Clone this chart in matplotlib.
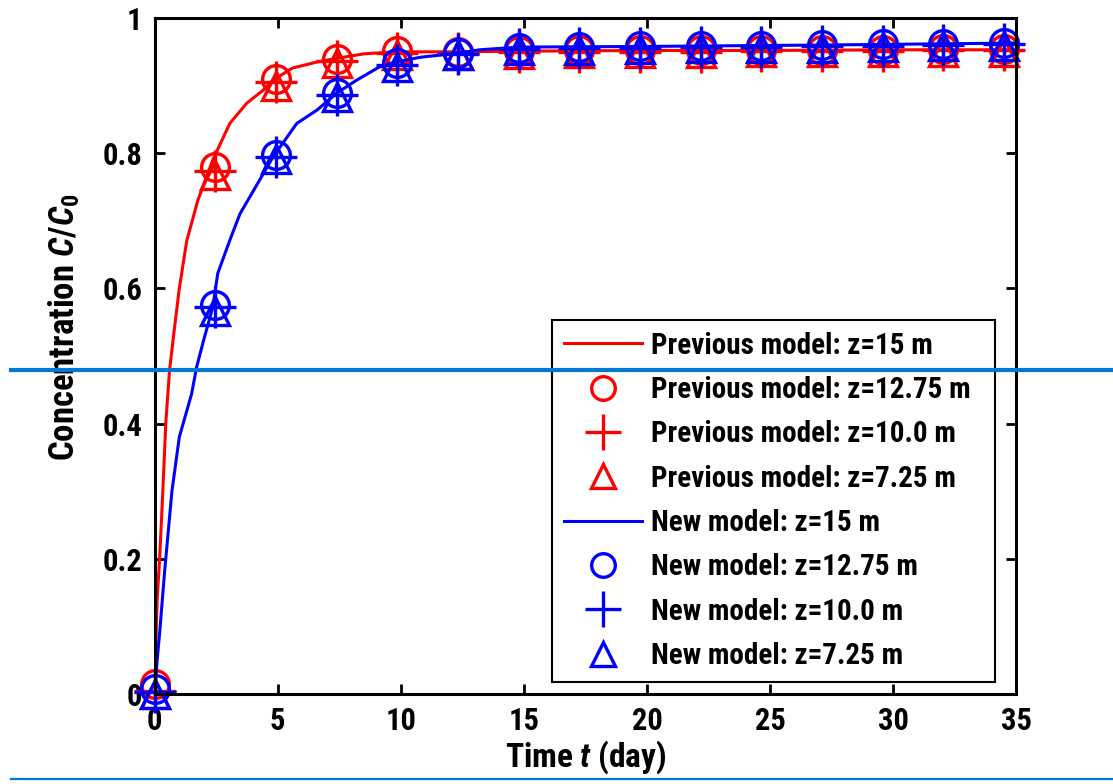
import matplotlib
matplotlib.use("Agg")
import matplotlib.pyplot as plt
from matplotlib.lines import Line2D

plt.rcParams['font.family'] = ['Roboto Condensed', 'Liberation Sans', 'DejaVu Sans']
plt.rcParams['font.weight'] = 'bold'
plt.rcParams['mathtext.fontset'] = 'custom'
plt.rcParams['mathtext.it'] = 'Roboto Condensed:italic:bold'
plt.rcParams['mathtext.rm'] = 'Roboto Condensed:bold'

# continuous model curves
t_prev = [0, 0.05, 0.1, 0.2, 0.33, 0.45, 0.6, 0.8, 1.0, 1.3, 1.75, 2.36, 3.05, 3.74, 4.4, 4.8,
          5.6, 6.6, 7.5, 8.5, 9.8, 12, 15, 20, 25, 30, 35]
c_prev = [0, 0.08, 0.14, 0.2, 0.3, 0.4, 0.478, 0.54, 0.6, 0.67, 0.73, 0.79, 0.844, 0.874, 0.893, 0.908,
          0.926, 0.935, 0.941, 0.947, 0.95, 0.95, 0.951, 0.952, 0.952, 0.953, 0.953]
t_new = [0, 0.1, 0.2, 0.4, 0.7, 1.0, 1.5, 1.7, 2.0, 2.36, 2.56, 3.05, 3.46, 3.78, 4.8, 5.77, 6.6,
         7.4, 8.2, 9.1, 9.8, 10.8, 12.3, 13.2, 14.8, 20, 27, 35]
c_new = [0, 0.05, 0.09, 0.18, 0.3, 0.38, 0.444, 0.483, 0.525, 0.572, 0.622, 0.671, 0.71, 0.73, 0.794, 0.844, 0.864,
         0.889, 0.908, 0.927, 0.935, 0.942, 0.948, 0.953, 0.957, 0.958, 0.96, 0.963]

# marker series
t_mark = [0, 2.46, 4.93, 7.39, 9.86, 12.32, 14.79, 17.25, 19.71, 22.18, 24.64, 27.11, 29.57, 32.04, 34.5]
prev_1275 = [0.015, 0.78, 0.91, 0.94, 0.951, 0.95, 0.951, 0.952, 0.952, 0.952, 0.953, 0.953, 0.953, 0.954, 0.954]
prev_100 = [0.004, 0.773, 0.905, 0.937, 0.948, 0.948, 0.949, 0.95, 0.95, 0.95, 0.951, 0.951, 0.951, 0.952, 0.952]
prev_725 = [0.0, 0.768, 0.9, 0.934, 0.945, 0.946, 0.947, 0.948, 0.948, 0.948, 0.949, 0.949, 0.949, 0.95, 0.95]
new_1275 = [0.007, 0.575, 0.797, 0.889, 0.934, 0.948, 0.955, 0.957, 0.958, 0.959, 0.959, 0.96, 0.961, 0.962, 0.963]
new_100 = [0.003, 0.572, 0.795, 0.886, 0.931, 0.947, 0.954, 0.955, 0.956, 0.957, 0.957, 0.958, 0.959, 0.96, 0.961]
new_725 = [0.0, 0.567, 0.792, 0.883, 0.928, 0.945, 0.952, 0.953, 0.954, 0.955, 0.955, 0.956, 0.957, 0.958, 0.959]

labels = ["Previous model: z=15 m", "Previous model: z=12.75 m", "Previous model: z=10.0 m",
          "Previous model: z=7.25 m", "New model: z=15 m", "New model: z=12.75 m",
          "New model: z=10.0 m", "New model: z=7.25 m"]

fig = plt.figure(figsize=(11.13, 7.84), dpi=100)
ax = fig.add_axes([0.139, 0.115, 0.774, 0.862])

lw = 2.2
mk = dict(linestyle='none', markerfacecolor='none', markeredgewidth=2.4, clip_on=False)
ax.plot(t_prev, c_prev, color='red', lw=lw, label=labels[0])
ax.plot(t_mark, prev_1275, marker='o', markersize=20, color='red', label=labels[1], **mk)
ax.plot(t_mark, prev_100, marker='+', markersize=30, color='red', label=labels[2], **mk)
ax.plot(t_mark, prev_725, marker='^', markersize=20, color='red', label=labels[3], **mk)
ax.plot(t_new, c_new, color='blue', lw=lw, label=labels[4])
ax.plot(t_mark, new_1275, marker='o', markersize=20, color='blue', label=labels[5], **mk)
ax.plot(t_mark, new_100, marker='+', markersize=30, color='blue', label=labels[6], **mk)
ax.plot(t_mark, new_725, marker='^', markersize=20, color='blue', label=labels[7], **mk)

ax.set_xlim(0, 35)
ax.set_ylim(0, 1)
ax.set_xticks([0, 5, 10, 15, 20, 25, 30, 35])
ax.set_yticks([0, 0.2, 0.4, 0.6, 0.8, 1])
ax.set_yticklabels(['0', '0.2', '0.4', '0.6', '0.8', '1'])
ax.tick_params(direction='in', length=7, width=2, top=True, right=True, labelsize=22, pad=9)
for s in ax.spines.values():
    s.set_linewidth(2.2)
ax.set_xlabel(r'Time $t$ (day)', fontsize=24, fontweight='bold', labelpad=1)
ax.set_ylabel(r'Concentration $C/C_0$', fontsize=25, fontweight='bold')
ax.yaxis.set_label_coords(-0.084, 0.542)

leg = ax.legend(loc='lower left', bbox_to_anchor=(0.461, 0.018, 0.514, 0.5), mode='expand',
                fontsize=21, fancybox=False, edgecolor='black', framealpha=1, handlelength=2.7,
                labelspacing=0.56, borderpad=0.4, handletextpad=0.3, markerscale=0.85,
                borderaxespad=0)
leg.get_frame().set_linewidth(1.5)

# the two blue guide lines across the picture
fig.add_artist(Line2D([0.01, 1], [0.528, 0.528], transform=fig.transFigure, color='#0078d4', lw=3))
fig.add_artist(Line2D([0.01, 1], [0.006, 0.006], transform=fig.transFigure, color='#0078d4', lw=1.6))

plt.savefig("out.png", dpi=100)
